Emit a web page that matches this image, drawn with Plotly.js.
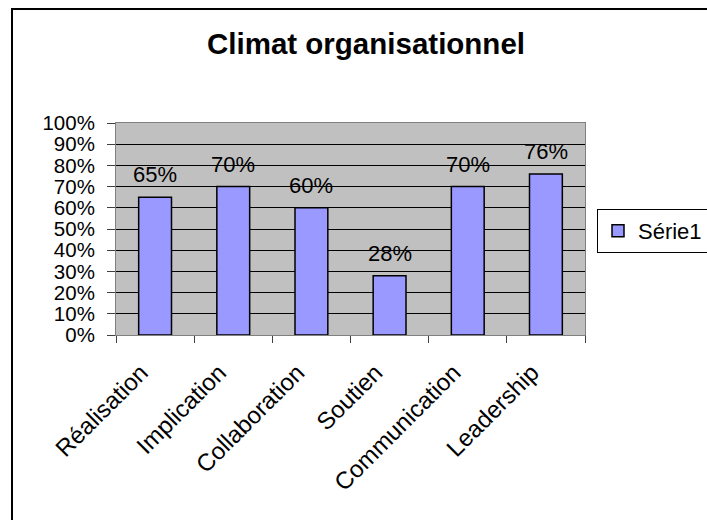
<!DOCTYPE html>
<html>
<head>
<meta charset="utf-8">
<script src="https://cdn.plot.ly/plotly-3.0.1.min.js"></script>
<style>
html,body{margin:0;padding:0;background:#fff;}
#chart{width:707px;height:520px;}
</style>
</head>
<body>
<div id="chart"></div>
<script>
var categories = ["Réalisation", "Implication", "Collaboration", "Soutien", "Communication", "Leadership"];
var values = [0.65, 0.70, 0.60, 0.28, 0.70, 0.76];
var seriesName = "Série1";
var yTickVals = [0, 0.1, 0.2, 0.3, 0.4, 0.5, 0.6, 0.7, 0.8, 0.9, 1.0];
var yTickText = ["0%", "10%", "20%", "30%", "40%", "50%", "60%", "70%", "80%", "90%", "100%"];

var FONT = "Liberation Sans, Arial, sans-serif";

var labels = values.map(function(v){ return Math.round(v*100) + "%"; });

var trace = {
  type: "bar",
  x: categories,
  y: values,
  name: seriesName,
  showlegend: true,
  marker: {color: "#9999FF", line: {color: "#000000", width: 1.5}},
  hoverinfo: "none"
};

var annotations = categories.map(function(c, i){
  return {
    x: c, y: values[i], xref: "x", yref: "y",
    text: labels[i], showarrow: false,
    yanchor: "bottom", yshift: 8,
    font: {family: FONT, size: 22, color: "#000"}
  };
});

// plot area: x 116..585, y 123..335
var L = 116, R = 585, T = 123, B = 335;
function px(x){ return (x - L) / (R - L); }
function py(y){ return (B - y) / (B - T); }

var shapes = [
  {type: "line", xref: "paper", yref: "paper", x0: px(12), x1: px(12), y0: py(8), y1: py(600), line: {color: "#000", width: 2}},
  {type: "line", xref: "paper", yref: "paper", x0: px(12), x1: px(800), y0: py(9), y1: py(9), line: {color: "#000", width: 2}}
];

var layout = {
  width: 707, height: 520,
  margin: {l: L, r: 707 - R, t: T, b: 520 - B, pad: 0, autoexpand: false},
  paper_bgcolor: "#ffffff",
  plot_bgcolor: "#C0C0C0",
  bargap: 0.58,
  font: {family: FONT, size: 21, color: "#000"},
  title: {
    text: "Climat organisationnel",
    font: {family: FONT, size: 29.5, weight: "bold", color: "#000"},
    x: px(366), xref: "paper", xanchor: "center",
    y: 1 - 44/520, yref: "container", yanchor: "middle"
  },
  xaxis: {
    type: "category",
    showline: true, linecolor: "#808080", linewidth: 1, mirror: true,
    showgrid: false, zeroline: false,
    ticks: "outside", tickson: "boundaries", ticklen: 7, tickcolor: "#404040", tickwidth: 1,
    tickangle: -45,
    ticklabelstandoff: 13,
    ticklabelshift: -14,
    tickfont: {family: FONT, size: 24, color: "#000"},
    fixedrange: true
  },
  yaxis: {
    range: [0, 1],
    tickvals: yTickVals, ticktext: yTickText,
    showline: true, linecolor: "#808080", linewidth: 1, mirror: true,
    showgrid: true, gridcolor: "#000000", gridwidth: 1,
    zeroline: false,
    ticks: "outside", ticklen: 8, tickcolor: "#404040", tickwidth: 1,
    ticklabelstandoff: 8,
    tickfont: {family: FONT, size: 20.5, color: "#000"},
    fixedrange: true
  },
  legend: {
    x: px(597), xanchor: "left", xref: "paper",
    y: py(209), yanchor: "top", yref: "paper",
    bgcolor: "#ffffff", bordercolor: "#000000", borderwidth: 1,
    font: {family: FONT, size: 22, color: "#000"},
    itemclick: false, itemdoubleclick: false
  },
  annotations: annotations,
  shapes: shapes
};

Plotly.newPlot("chart", [trace], layout, {displayModeBar: false, staticPlot: true});
</script>
</body>
</html>
